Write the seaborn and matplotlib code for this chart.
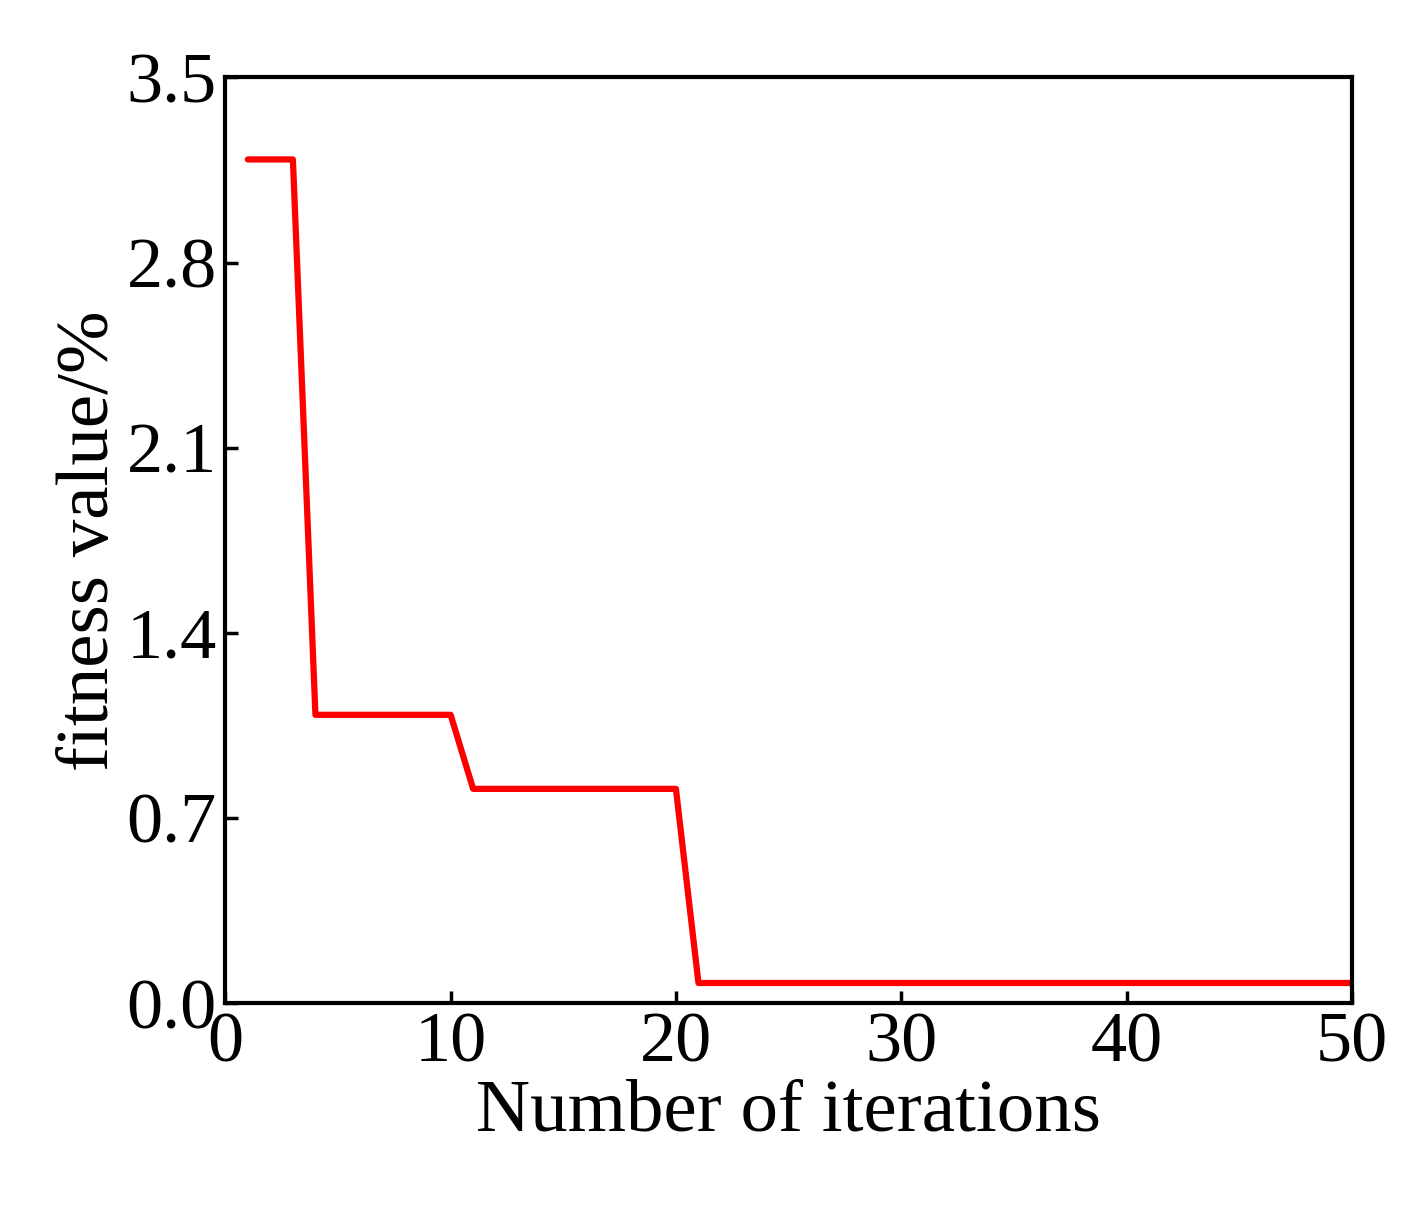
import matplotlib
matplotlib.use("Agg")
import matplotlib.pyplot as plt
import seaborn as sns
import pandas as pd

# best fitness per iteration
iterations = list(range(1, 51))
fitness = [3.19] * 3 + [1.09] * 7 + [0.81] * 10 + [0.076] * 30

sns.set_style("ticks")
plt.rcParams['font.family'] = ['Liberation Serif', 'DejaVu Serif']
plt.rcParams['text.color'] = 'black'
plt.rcParams['axes.labelcolor'] = 'black'

df = pd.DataFrame({"iter": iterations, "fit": fitness})

fig, ax = plt.subplots(figsize=(14.26, 12.10), dpi=100)
sns.lineplot(data=df, x="iter", y="fit", color="red", linewidth=4.5, ax=ax)

ax.set_xlim(0, 50)
ax.set_ylim(0, 3.5)
ax.set_xticks([0, 10, 20, 30, 40, 50])
ax.set_yticks([0.0, 0.7, 1.4, 2.1, 2.8, 3.5])
ax.set_yticklabels(["0.0", "0.7", "1.4", "2.1", "2.8", "3.5"])
ax.tick_params(direction="in", labelsize=52, length=9, width=2.5, pad=6,
               colors="black")
for s in ax.spines.values():
    s.set_linewidth(3)
    s.set_color("black")
ax.set_xlabel("Number of iterations", fontsize=54, labelpad=2)
ax.set_ylabel("fitness value/%", fontsize=54, labelpad=2)

fig.subplots_adjust(left=0.158, right=0.948, top=0.936, bottom=0.171)
fig.savefig("out.png", dpi=100)
